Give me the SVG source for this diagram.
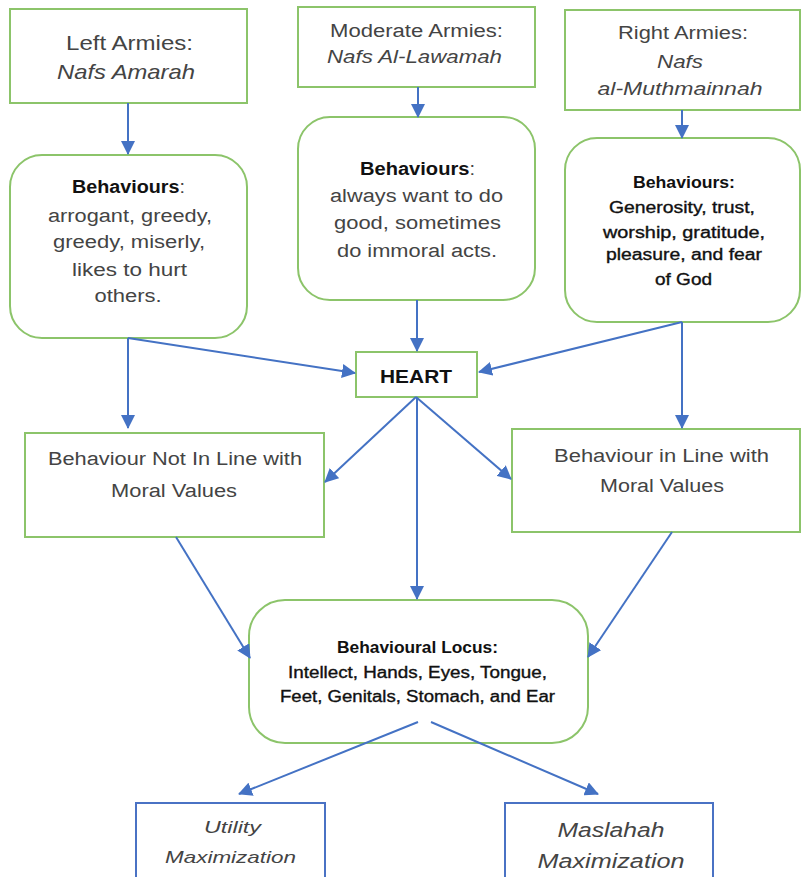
<svg xmlns="http://www.w3.org/2000/svg" width="801" height="877" viewBox="0 0 801 877">
<defs>
<marker id="ah" markerUnits="userSpaceOnUse" markerWidth="14" markerHeight="14" refX="13" refY="7" orient="auto">
<path d="M0,0 L14,7 L0,14 Z" fill="#4472C4"/>
</marker>
<style>
.g{fill:#fff;stroke:#8CC46A;stroke-width:2}
.b{fill:#fff;stroke:#4A72C4;stroke-width:2}
.c{stroke:#4472C4;stroke-width:2;fill:none;marker-end:url(#ah)}
text{font-family:"Liberation Sans",Arial,sans-serif;text-anchor:middle;fill:#444}
.it{font-style:italic}
.bd{font-weight:bold;fill:#111}
.dk{fill:#111;stroke:#111;stroke-width:0.35}
</style>
</defs>
<rect width="801" height="877" fill="#fff"/>
<g id="left-armies">
<rect class="g" x="10" y="9" width="237" height="94"/>
<text font-size="21" x="129.5" y="50" textLength="127" lengthAdjust="spacingAndGlyphs">Left Armies:</text>
<text font-size="21" class="it" x="126" y="79" textLength="138" lengthAdjust="spacingAndGlyphs">Nafs Amarah</text>
</g>
<g id="moderate-armies">
<rect class="g" x="298" y="7" width="237" height="80"/>
<text font-size="18" x="416.5" y="37" textLength="173" lengthAdjust="spacingAndGlyphs">Moderate Armies:</text>
<text font-size="18" class="it" x="414.5" y="63" textLength="175" lengthAdjust="spacingAndGlyphs">Nafs Al-Lawamah</text>
</g>
<g id="right-armies">
<rect class="g" x="565" y="10" width="235" height="100"/>
<text font-size="18" x="683" y="39" textLength="130" lengthAdjust="spacingAndGlyphs">Right Armies:</text>
<text font-size="18" class="it" x="680" y="68" textLength="46" lengthAdjust="spacingAndGlyphs">Nafs</text>
<text font-size="18" class="it" x="680" y="95" textLength="165" lengthAdjust="spacingAndGlyphs">al-Muthmainnah</text>
</g>
<g id="left-behaviours">
<rect class="g" x="10" y="155" width="237" height="183" rx="32"/>
<text font-size="18" x="128.5" y="193" textLength="113" lengthAdjust="spacingAndGlyphs"><tspan class="bd">Behaviours</tspan>:</text>
<text font-size="18" x="130" y="222" textLength="164" lengthAdjust="spacingAndGlyphs">arrogant, greedy,</text>
<text font-size="18" x="129" y="248" textLength="152" lengthAdjust="spacingAndGlyphs">greedy, miserly,</text>
<text font-size="18" x="129.5" y="276" textLength="115" lengthAdjust="spacingAndGlyphs">likes to hurt</text>
<text font-size="18" x="128" y="302" textLength="67" lengthAdjust="spacingAndGlyphs">others.</text>
</g>
<g id="moderate-behaviours">
<rect class="g" x="298" y="117" width="237" height="183" rx="32"/>
<text font-size="18" x="417.5" y="175" textLength="115" lengthAdjust="spacingAndGlyphs"><tspan class="bd">Behaviours</tspan>:</text>
<text font-size="18" x="416.5" y="202" textLength="173" lengthAdjust="spacingAndGlyphs">always want to do</text>
<text font-size="18" x="417.5" y="229" textLength="167" lengthAdjust="spacingAndGlyphs">good, sometimes</text>
<text font-size="18" x="417" y="257" textLength="160" lengthAdjust="spacingAndGlyphs">do immoral acts.</text>
</g>
<g id="right-behaviours">
<rect class="g" x="565" y="138" width="235" height="184" rx="32"/>
<text class="bd" font-size="16" x="684" y="188" textLength="102" lengthAdjust="spacingAndGlyphs">Behaviours:</text>
<text class="dk" font-size="16" x="682" y="213" textLength="146" lengthAdjust="spacingAndGlyphs">Generosity, trust,</text>
<text class="dk" font-size="16" x="684" y="238" textLength="162" lengthAdjust="spacingAndGlyphs">worship, gratitude,</text>
<text class="dk" font-size="16" x="684" y="260" textLength="156" lengthAdjust="spacingAndGlyphs">pleasure, and fear</text>
<text class="dk" font-size="16" x="683.5" y="285" textLength="57" lengthAdjust="spacingAndGlyphs">of God</text>
</g>
<g id="heart">
<rect class="g" x="356" y="352" width="121" height="45"/>
<text class="bd" font-size="19" x="416" y="383" textLength="72" lengthAdjust="spacingAndGlyphs">HEART</text>
</g>
<g id="not-in-line">
<rect class="g" x="25" y="433" width="299" height="104"/>
<text font-size="18" x="175" y="465" textLength="254" lengthAdjust="spacingAndGlyphs">Behaviour Not In Line with</text>
<text font-size="18" x="174" y="497" textLength="126" lengthAdjust="spacingAndGlyphs">Moral Values</text>
</g>
<g id="in-line">
<rect class="g" x="512" y="429" width="288" height="103"/>
<text font-size="18" x="661.5" y="462" textLength="215" lengthAdjust="spacingAndGlyphs">Behaviour in Line with</text>
<text font-size="18" x="662" y="492" textLength="124" lengthAdjust="spacingAndGlyphs">Moral Values</text>
</g>
<g id="locus">
<rect class="g" x="249" y="600" width="339" height="143" rx="36"/>
<text class="bd" font-size="16" x="417.5" y="653" textLength="161" lengthAdjust="spacingAndGlyphs">Behavioural Locus:</text>
<text class="dk" font-size="16" x="417.5" y="678" textLength="259" lengthAdjust="spacingAndGlyphs">Intellect, Hands, Eyes, Tongue,</text>
<text class="dk" font-size="16" x="417.5" y="702" textLength="275" lengthAdjust="spacingAndGlyphs">Feet, Genitals, Stomach, and Ear</text>
</g>
<g id="utility">
<rect class="b" x="136" y="803" width="189" height="90"/>
<text font-size="17" class="it" x="232.5" y="833" textLength="57" lengthAdjust="spacingAndGlyphs">Utility</text>
<text font-size="17" class="it" x="230.5" y="863" textLength="131" lengthAdjust="spacingAndGlyphs">Maximization</text>
</g>
<g id="maslahah">
<rect class="b" x="505" y="803" width="208" height="90"/>
<text font-size="20" class="it" x="611" y="837" textLength="107" lengthAdjust="spacingAndGlyphs">Maslahah</text>
<text font-size="20" class="it" x="611" y="868" textLength="147" lengthAdjust="spacingAndGlyphs">Maximization</text>
</g>
<g id="connectors">
<line class="c" x1="128" y1="103" x2="128" y2="154"/>
<line class="c" x1="418" y1="87" x2="418" y2="117"/>
<line class="c" x1="682" y1="110" x2="682" y2="138"/>
<line class="c" x1="128" y1="338" x2="355" y2="373"/>
<line class="c" x1="128" y1="338" x2="128" y2="428"/>
<line class="c" x1="417" y1="300" x2="417" y2="351"/>
<line class="c" x1="682" y1="322" x2="479" y2="372"/>
<line class="c" x1="682" y1="322" x2="682" y2="428"/>
<line class="c" x1="416" y1="397" x2="325" y2="482"/>
<line class="c" x1="416" y1="397" x2="511" y2="479"/>
<line class="c" x1="417" y1="397" x2="417" y2="599"/>
<line class="c" x1="176" y1="537" x2="250" y2="658"/>
<line class="c" x1="672" y1="532" x2="588" y2="657"/>
<line class="c" x1="418" y1="722" x2="239" y2="794"/>
<line class="c" x1="431" y1="722" x2="598" y2="794"/>
</g>
</svg>
